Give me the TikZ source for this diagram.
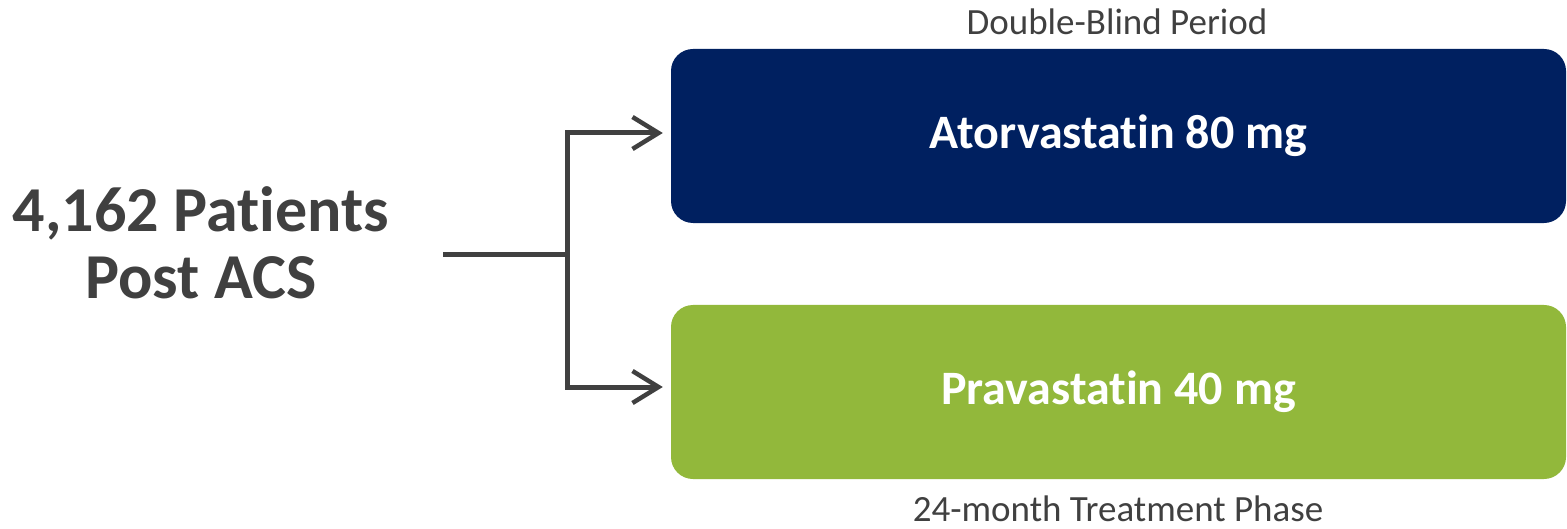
\documentclass[tikz,border=0pt]{standalone}
\usepackage{fontspec}
\setmainfont[Ligatures=NoCommon]{Carlito}
\usetikzlibrary{arrows.meta}
\definecolor{navy}{RGB}{0,32,96}
\definecolor{leaf}{RGB}{146,184,59}
\definecolor{ink}{RGB}{64,64,64}
\begin{document}
\begin{tikzpicture}[x=1bp,y=-1bp,
  armbox/.style={rounded corners=22bp, minimum width=895bp, minimum height=174bp, inner sep=0pt, text=white, font=\fontsize{48bp}{56bp}\selectfont\bfseries},
  conn/.style={draw=ink, line width=5bp},
  tip/.style={-{Straight Barb[length=26bp,width=32bp,line width=4.5bp]}},
  note/.style={text=ink, font=\fontsize{37bp}{42bp}\selectfont, inner sep=0pt}]
\useasboundingbox (0,0) rectangle (1567,529);
\node[armbox, fill=navy] (ator) at (1118.5,136) {Atorvastatin 80 mg};
\node[armbox, fill=leaf] (prav) at (1118.5,392) {Pravastatin 40 mg};
\node[text=ink, align=center, inner sep=0pt, font=\fontsize{64bp}{67bp}\selectfont\bfseries] (pat) at (201,243) {4,162 Patients\\Post ACS};
\node[note] (dbp) at (1117,22) {Double-Blind Period};
\node[note] (tp) at (1118,509) {24-month Treatment Phase};
\coordinate (start) at (443,255);
\coordinate (fork) at (567,255);
\coordinate (ftop) at (567,133);
\coordinate (fbot) at (567,387);
\draw[conn] (start) -- (fork);
\draw[conn, line cap=rect] (fork) -- (ftop);
\draw[conn, line cap=rect] (fork) -- (fbot);
\draw[conn, tip] (ftop) -- ([xshift=-8bp]ftop -| ator.west);
\draw[conn, tip] (fbot) -- ([xshift=-8bp]fbot -| prav.west);
\end{tikzpicture}
\end{document}
